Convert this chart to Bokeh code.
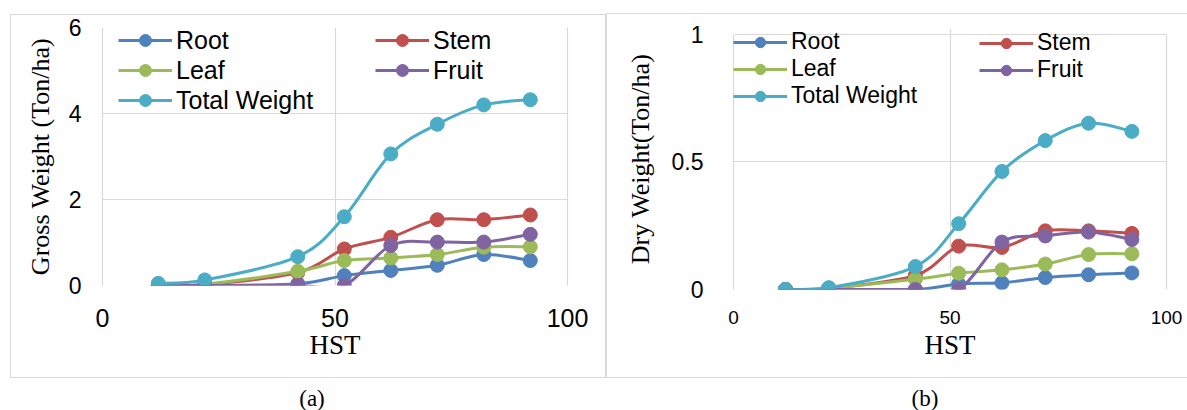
from bokeh.plotting import figure
from bokeh.layouts import row, column
from bokeh.models import (Range1d, FixedTicker, Legend, LegendItem, Div,
                          LinearAxis, InlineStyleSheet)
from bokeh.embed import file_html
from bokeh.resources import INLINE

# Days after planting (HST)
days = [12, 22, 42, 52, 62, 72, 82, 92]

# Gross (fresh) weight, ton/ha
gross_root = [0.0, 0.0, 0.04, 0.23, 0.35, 0.47, 0.72, 0.58]
gross_stem = [0.0, 0.02, 0.30, 0.85, 1.12, 1.53, 1.53, 1.64]
gross_leaf = [0.0, 0.03, 0.33, 0.58, 0.64, 0.72, 0.89, 0.90]
gross_fruit = [0.0, 0.0, 0.0, 0.0, 0.93, 1.01, 1.01, 1.19]
gross_total = [0.05, 0.13, 0.67, 1.60, 3.06, 3.75, 4.20, 4.32]

# Dry weight, ton/ha
dry_root = [0.0, 0.0, 0.0, 0.022, 0.026, 0.047, 0.058, 0.065]
dry_stem = [0.0, 0.005, 0.055, 0.17, 0.165, 0.23, 0.23, 0.22]
dry_leaf = [0.0, 0.005, 0.04, 0.064, 0.077, 0.10, 0.137, 0.14]
dry_fruit = [0.0, 0.0, 0.0, 0.0, 0.186, 0.21, 0.225, 0.196]
dry_total = [0.0, 0.007, 0.09, 0.258, 0.463, 0.584, 0.652, 0.62]

series_names = ["Root", "Stem", "Leaf", "Fruit", "Total Weight"]
series_colors = ["#4F81BD", "#C0504D", "#9BBB59", "#8064A2", "#4BACC6"]

x_ticks = [0, 50, 100]
x_tick_labels = ["0", "50", "100"]
gross_y_ticks = [0, 2, 4, 6]
gross_y_tick_labels = ["0", "2", "4", "6"]
dry_y_ticks = [0, 0.5, 1]
dry_y_tick_labels = ["0", "0.5", "1"]

GRID = "#d9d9d9"
SANS = "Liberation Sans"
SERIF = "Liberation Serif"
PANEL_H = 377


def smooth_segments(xs, ys):
    """Cubic Bezier control points (Catmull-Rom style) through the points."""
    px = [xs[0]] + list(xs) + [xs[-1]]
    py = [ys[0]] + list(ys) + [ys[-1]]
    seg = dict(x0=[], y0=[], x1=[], y1=[], cx0=[], cy0=[], cx1=[], cy1=[])
    for i in range(len(xs) - 1):
        xa, ya = px[i], py[i]
        xb, yb = px[i + 1], py[i + 1]
        xc, yc = px[i + 2], py[i + 2]
        xd, yd = px[i + 3], py[i + 3]
        seg["x0"].append(xb); seg["y0"].append(yb)
        seg["x1"].append(xc); seg["y1"].append(yc)
        seg["cx0"].append(xb + (xc - xa) / 6.0)
        seg["cy0"].append(yb + (yc - ya) / 6.0)
        seg["cx1"].append(xc - (xd - xb) / 6.0)
        seg["cy1"].append(yc - (yd - yb) / 6.0)
    return seg


def panel_box_css(left, top, width, height, right_edge=True):
    """Light grey frame drawn around the whole panel (axes and titles)."""
    right = "" if right_edge else "border-right: none;"
    return InlineStyleSheet(css=(
        ":host { position: relative; }\n"
        ":host::after { content: ''; position: absolute; "
        f"left: {left}px; top: {top}px; width: {width}px; "
        f"height: {height}px; border: 1.5px solid {GRID}; {right} "
        "box-sizing: border-box; pointer-events: none; }"))


def make_panel(width, values, y_top, y_ticks, y_labels, y_title,
               frame, tick_sizes, standoffs, legend_cfg, box):
    left, right, top, bottom = frame
    p = figure(width=width, height=PANEL_H, title=None,
               x_range=Range1d(0, 100), y_range=Range1d(0, y_top),
               output_backend="svg", toolbar_location=None,
               min_border_left=left, min_border_right=width - right,
               min_border_top=top, min_border_bottom=PANEL_H - bottom)
    p.frame_align = False
    p.background_fill_color = "white"
    p.border_fill_color = "white"
    p.outline_line_color = None

    # plot-area edges: left/right axis lines limited to the tick span,
    # horizontal grid lines at every y tick, one inner vertical grid line
    span = (y_ticks[0], y_ticks[-1])
    edge = LinearAxis(ticker=FixedTicker(ticks=[y_ticks[0] - 1]),
                      bounds=span, major_tick_line_color=None,
                      minor_tick_line_color=None,
                      axis_line_color=GRID, axis_line_width=1.2)
    p.add_layout(edge, "right")
    p.xaxis.ticker = FixedTicker(ticks=x_ticks)
    p.yaxis[0].ticker = FixedTicker(ticks=y_ticks)
    p.xgrid.ticker = FixedTicker(ticks=x_ticks[1:-1])
    p.ygrid.ticker = FixedTicker(ticks=y_ticks)
    p.xaxis.major_label_overrides = dict(zip(x_ticks, x_tick_labels))
    p.yaxis[0].major_label_overrides = dict(zip(y_ticks, y_labels))
    for g in (p.xgrid, p.ygrid):
        g.grid_line_color = GRID
        g.grid_line_width = 1.2
    for ax in (p.xaxis[0], p.yaxis[0]):
        ax.major_tick_line_color = None
        ax.minor_tick_line_color = None
        ax.major_label_text_font = SANS
        ax.major_label_text_color = "black"
        ax.axis_label_text_font = SERIF
        ax.axis_label_text_font_style = "normal"
        ax.axis_label_text_color = "black"
    p.xaxis[0].axis_line_color = None
    p.yaxis[0].axis_line_color = GRID
    p.yaxis[0].axis_line_width = 1.2
    p.yaxis[0].bounds = span
    p.xaxis[0].major_label_text_font_size = tick_sizes[0]
    p.yaxis[0].major_label_text_font_size = tick_sizes[1]
    p.xaxis[0].major_label_standoff = standoffs[0]
    p.yaxis[0].major_label_standoff = standoffs[1]
    p.xaxis[0].axis_label = "HST"
    p.xaxis[0].axis_label_text_font_size = "27px"
    p.xaxis[0].axis_label_standoff = standoffs[2]
    p.yaxis[0].axis_label = y_title
    p.yaxis[0].axis_label_text_font_size = "26px"
    p.yaxis[0].axis_label_standoff = standoffs[3]

    items = []
    for name, color, ys in zip(series_names, series_colors, values):
        curve = p.bezier(line_color=color, line_width=3,
                         **smooth_segments(days, ys))
        dots = p.scatter(days, ys, size=14, marker="circle",
                         fill_color=color, line_color=color)
        items.append(LegendItem(label=name, renderers=[curve, dots]))

    # two legend columns: Root / Leaf / Total Weight and Stem / Fruit
    cols = [[items[0], items[2], items[4]], [items[1], items[3]]]
    for col_items, loc in zip(cols, legend_cfg["locations"]):
        leg = Legend(items=col_items, location=loc, orientation="vertical",
                     padding=0, margin=0, spacing=0,
                     border_line_color=None, background_fill_alpha=0,
                     glyph_width=54, glyph_height=legend_cfg["row"],
                     label_height=legend_cfg["row"], label_standoff=4,
                     label_text_font=SANS,
                     label_text_font_size=legend_cfg["font"],
                     label_text_color="black")
        p.add_layout(leg, "center")

    p.stylesheets = [panel_box_css(*box)]
    return p


def caption(text, width, shift):
    inner = width - shift
    return Div(text=(
        f'<div style="width: {inner}px; padding-top: 11px; '
        "line-height: 22px; text-align: center; "
        f"font-family: '{SERIF}'; font-size: 23px; color: black;\">"
        f"{text}</div>"),
        width=inner, height=410 - PANEL_H, margin=(0, 0, 0, shift))


pa = make_panel(
    606, [gross_root, gross_stem, gross_leaf, gross_fruit, gross_total],
    6, gross_y_ticks, gross_y_tick_labels, "Gross Weight (Ton/ha)",
    frame=(102, 567, 27, 285), tick_sizes=("25px", "23px"),
    standoffs=(17, 15, 0, 11),
    legend_cfg=dict(locations=[(16, 170), (273, 200)], row=30, font="25px"),
    box=(10, 14, 596, 364))

pb = make_panel(
    581, [dry_root, dry_stem, dry_leaf, dry_fruit, dry_total],
    1.0235, dry_y_ticks, dry_y_tick_labels, "Dry Weight(Ton/ha)",
    frame=(127, 560, 28, 289), tick_sizes=("19px", "23px"),
    standoffs=(15, 24, 3, 14),
    legend_cfg=dict(locations=[(0, 180), (246, 206)], row=26, font="23px"),
    box=(0, 13, 581, 365, False))

layout = column(row(pa, pb, spacing=0),
                row(caption("(a)", 606, 18), caption("(b)", 581, 57),
                    spacing=0),
                spacing=0)
open("out.html", "w").write(file_html(layout, INLINE))
